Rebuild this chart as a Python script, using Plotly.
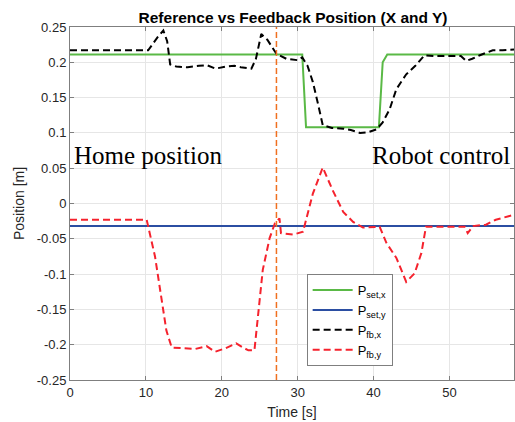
import plotly.graph_objects as go

# Setpoint X (step profile)
t_set_x = [0, 30.6, 31.1, 40.7, 41.2, 41.8, 58.5]
p_set_x = [0.211, 0.211, 0.108, 0.108, 0.2, 0.211, 0.211]

# Setpoint Y (constant)
t_set_y = [0, 58.5]
p_set_y = [-0.032, -0.032]

# Feedback X
t_fb_x = [0, 4, 8, 10.3, 11.5, 12.3, 12.8, 13.2, 14, 15.5, 17, 18, 19.2, 20.5, 21.7, 22.5, 23.9, 24.5, 25.2, 26, 27.2, 28.5, 30, 30.6,
          31.3, 32, 32.7, 33.3, 34.5, 36, 37, 38.2, 39.3, 40.4, 41.2, 42.1, 43, 44.3, 45.5, 46.7, 48, 50, 51.5, 52.2, 53, 54, 55.7, 57, 58.5]
p_fb_x = [0.217, 0.217, 0.217, 0.217, 0.235, 0.245, 0.23, 0.197, 0.194, 0.193, 0.195, 0.196, 0.191, 0.194, 0.195, 0.193, 0.191, 0.205, 0.24, 0.232, 0.212, 0.205, 0.203, 0.207,
          0.195, 0.172, 0.14, 0.111, 0.107, 0.106, 0.104, 0.1, 0.101, 0.105, 0.115, 0.133, 0.162, 0.183, 0.195, 0.21, 0.209, 0.209, 0.209, 0.202, 0.205, 0.21, 0.217, 0.217, 0.218]

# Feedback Y
t_fb_y = [0, 4, 8, 10.1, 11.2, 12, 12.7, 13.4, 15, 16.5, 18, 19.1, 20.5, 21.9, 22.8, 23.5, 24.3, 25, 25.4, 26.3, 27, 27.6, 27.8, 29.4, 30.7,
          32, 33.3, 34.6, 36, 37.3, 38.6, 40.8, 41.7, 43, 44.3, 45.4, 46.3, 46.9, 49, 52, 52.4, 53.1, 54.8, 56.1, 58.5]
p_fb_y = [-0.023, -0.023, -0.023, -0.023, -0.075, -0.13, -0.18, -0.204, -0.205, -0.206, -0.202, -0.21, -0.205, -0.198, -0.204, -0.208, -0.208, -0.137, -0.094, -0.049, -0.028, -0.021, -0.042, -0.044, -0.04,
          0.014, 0.051, 0.019, -0.012, -0.026, -0.034, -0.033, -0.056, -0.077, -0.111, -0.099, -0.07, -0.033, -0.033, -0.033, -0.042, -0.032, -0.03, -0.023, -0.016]

marker_t = 27.2
x_ticks = [0, 10, 20, 30, 40, 50]
y_ticks = [-0.25, -0.2, -0.15, -0.1, -0.05, 0, 0.05, 0.1, 0.15, 0.2, 0.25]
y_tick_text = ["-0.25", "-0.2", "-0.15", "-0.1", "-0.05", "0", "0.05", "0.1", "0.15", "0.2", "0.25"]

fig = go.Figure()
fig.add_trace(go.Scatter(x=t_set_x, y=p_set_x, mode="lines", name="P<sub>set,x</sub>",
                         line=dict(color="#5ab946", width=2)))
fig.add_trace(go.Scatter(x=t_set_y, y=p_set_y, mode="lines", name="P<sub>set,y</sub>",
                         line=dict(color="#2b4ea2", width=2)))
fig.add_trace(go.Scatter(x=t_fb_x, y=p_fb_x, mode="lines", name="P<sub>fb,x</sub>",
                         line=dict(color="black", width=2, dash="7px,4px")))
fig.add_trace(go.Scatter(x=t_fb_y, y=p_fb_y, mode="lines", name="P<sub>fb,y</sub>",
                         line=dict(color="#f5222d", width=2, dash="7px,4px")))

fig.add_shape(type="line", x0=marker_t, x1=marker_t, y0=-0.25, y1=0.25, xref="x", yref="y",
              line=dict(color="#f07020", width=1.5, dash="6px,3px"))

fig.add_annotation(x=0.3, y=0.068, xref="x", yref="y", text="Home position", showarrow=False,
                   xanchor="left", yanchor="middle",
                   font=dict(family="Liberation Serif", size=25, color="black"))
fig.add_annotation(x=58.3, y=0.068, xref="x", yref="y", text="Robot control", showarrow=False,
                   xanchor="right", yanchor="middle",
                   font=dict(family="Liberation Serif", size=25, color="black"))

axis_common = dict(showgrid=True, gridcolor="#e6e6e6", gridwidth=1, zeroline=False,
                   showline=True, linecolor="#7f7f7f", linewidth=1, mirror="ticks",
                   ticks="inside", ticklen=4, tickcolor="#7f7f7f",
                   tickfont=dict(family="Liberation Sans", size=13, color="#262626"))

fig.update_layout(
    width=515, height=422,
    margin=dict(l=70, r=1, t=27, b=42, autoexpand=False),
    paper_bgcolor="white", plot_bgcolor="white",
    title=dict(text="<b>Reference vs Feedback Position (X and Y)</b>", x=0.569, xanchor="center",
               y=0.958, yanchor="middle",
               font=dict(family="Liberation Sans", size=15.5, color="black")),
    xaxis=dict(range=[0, 58.5], tickvals=x_ticks,
               title=dict(text="Time [s]", standoff=8,
                          font=dict(family="Liberation Sans", size=14, color="#262626")),
               **axis_common),
    yaxis=dict(range=[-0.25, 0.25], tickvals=y_ticks, ticktext=y_tick_text,
               title=dict(text="Position [m]", standoff=8,
                          font=dict(family="Liberation Sans", size=14, color="#262626")),
               **axis_common),
    legend=dict(x=0.533, y=0.30, xanchor="left", yanchor="top",
                bgcolor="white", bordercolor="#7f7f7f", borderwidth=1,
                font=dict(family="Liberation Sans", size=13, color="black"),
                itemwidth=40, tracegroupgap=0),
    showlegend=True,
)

fig.write_html("out.html", config={"displayModeBar": False},
               post_script="document.body.style.margin='0';")
